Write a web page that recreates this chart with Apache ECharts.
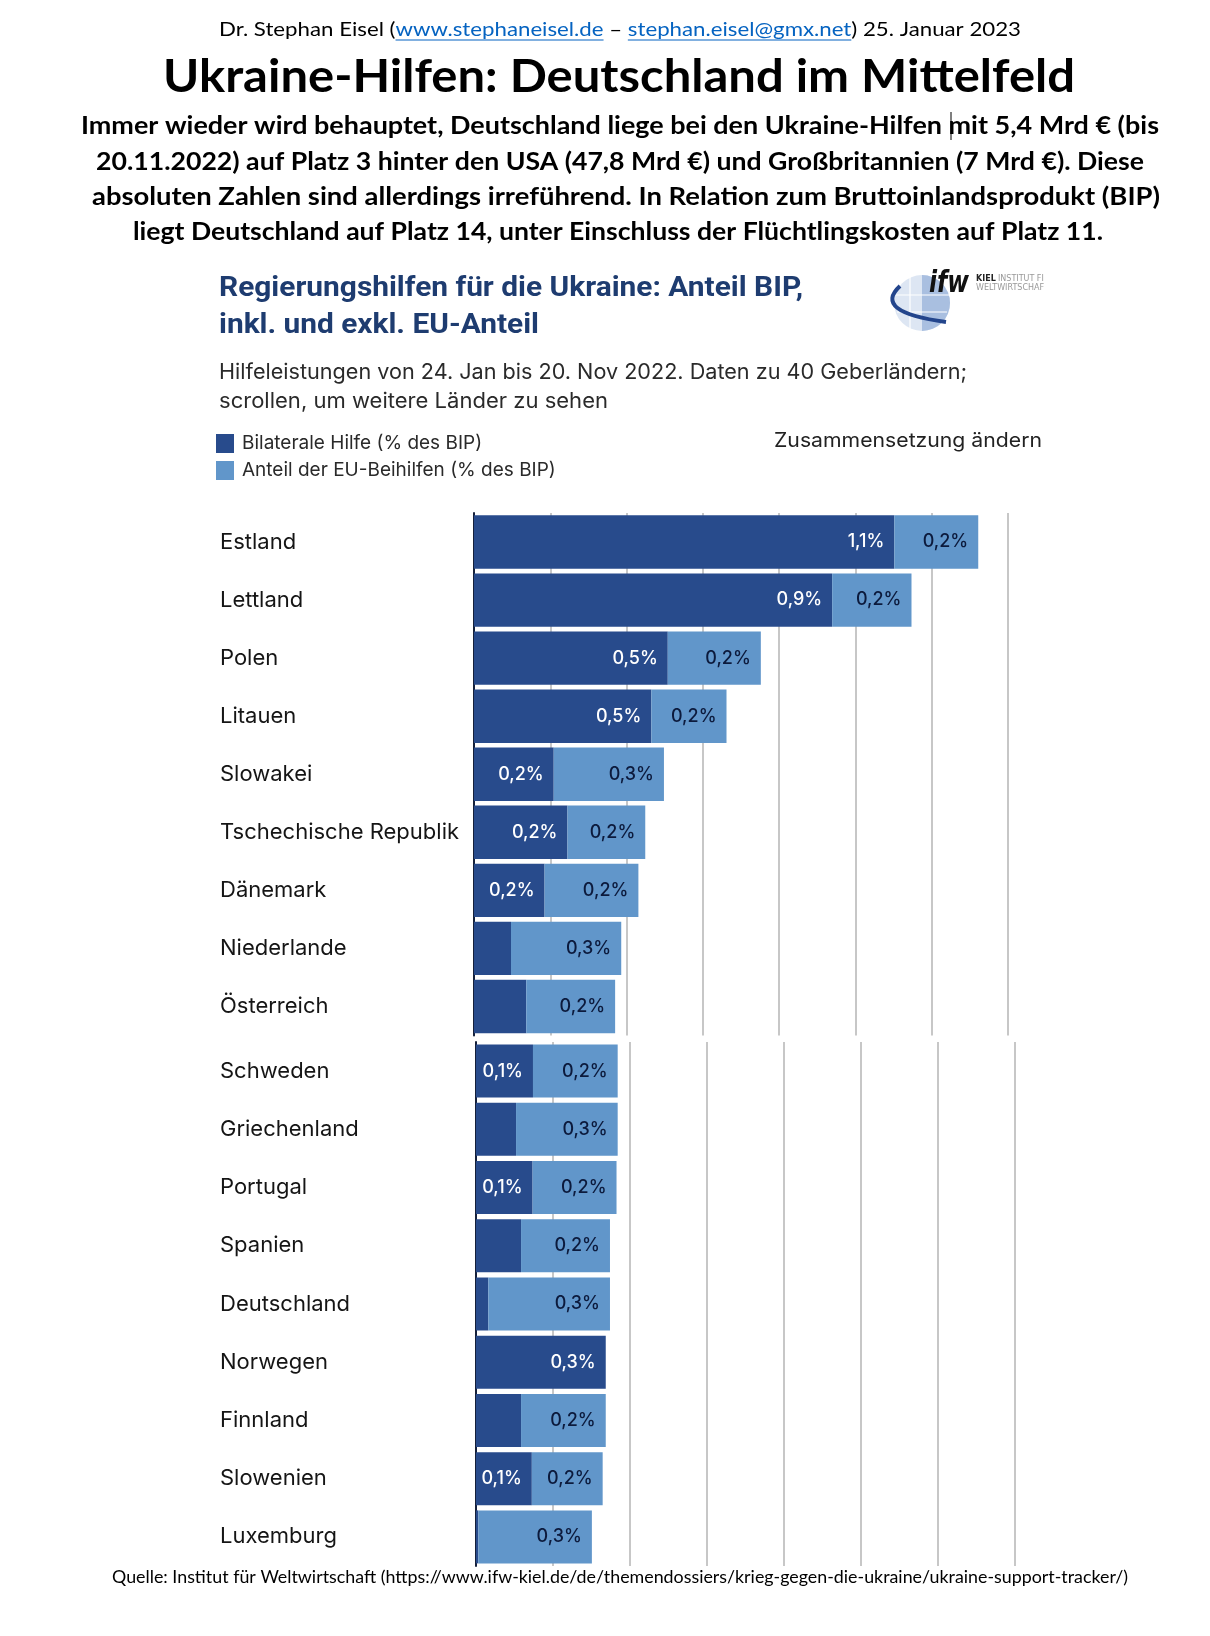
<!DOCTYPE html>
<html><head><meta charset="utf-8">
<script src="https://cdn.jsdelivr.net/npm/echarts@6/dist/echarts.min.js"></script>
<style>html,body{margin:0;padding:0;background:#fff}#chart{width:1210px;height:1636px}</style>
</head><body><div id="chart"></div>
<script>
// ---- data ----
const countries = ['Estland','Lettland','Polen','Litauen','Slowakei','Tschechische Republik','Dänemark','Niederlande','Österreich',
                   'Schweden','Griechenland','Portugal','Spanien','Deutschland','Norwegen','Finnland','Slowenien','Luxemburg'];
const bilateral = [1.102,0.939,0.508,0.465,0.209,0.245,0.185,0.097,0.137,
                   0.148,0.104,0.147,0.117,0.032,0.337,0.117,0.145,0.006];
const euShare   = [0.220,0.208,0.244,0.197,0.289,0.204,0.246,0.289,0.233,
                   0.220,0.264,0.218,0.231,0.316,0,0.220,0.184,0.295];
const seriesNames = ['Bilaterale Hilfe (% des BIP)', 'Anteil der EU-Beihilfen (% des BIP)'];
const xTicks = {min:0, max:1.4, step:0.2};
const splitAt = 9; // the reference is two stitched screenshots

// ---- styling ----
const DARK = '#284b8c', LIGHT = '#6196ca', LABEL_DARK = '#0c1a3c';
const ctx = document.createElement('canvas').getContext('2d');
function tw(t, font){ ctx.font = font; return ctx.measureText(t).width; }
function fit(text, font, x, y, target, fill, align){
  const w = tw(text, font);
  return {type:'text', x:x, y:y, scaleX: target / w, silent:true,
          style:{text:text, font:font, fill:fill || '#000', align:align || 'left', verticalAlign:'middle'}};
}
function segLine(segs, font, cx, y, target, ul){
  const ws = segs.map(s => tw(s.t, font));
  const tot = ws.reduce((a,b)=>a+b,0), k = target / tot;
  let x = cx - target/2; const out = [];
  segs.forEach((s,i)=>{
    out.push({type:'text', x:x, y:y, scaleX:k, silent:true,
      style:{text:s.t, font:font, fill:s.c || '#000', align:'left', verticalAlign:'middle'}});
    if (s.u) out.push({type:'line', silent:true, shape:{x1:x, y1:y+ul, x2:x+ws[i]*k, y2:y+ul}, style:{stroke:s.c, lineWidth:1.2}});
    x += ws[i]*k;
  });
  return out;
}
const fmt = v => v.toFixed(1).replace('.', ',') + '%';

const LINK = '#0563c1';
const graphics = [].concat(
  segLine([{t:'Dr. Stephan Eisel ('},{t:'www.stephaneisel.de',c:LINK,u:true},{t:' – '},
           {t:'stephan.eisel@gmx.net',c:LINK,u:true},{t:') 25. Januar 2023'}], '19px Lato', 620, 30, 802, 10),
  [
    fit('Ukraine-Hilfen: Deutschland im Mittelfeld', 'bold 46px Lato', 619, 77, 912, '#000', 'center'),
    fit('Immer wieder wird behauptet, Deutschland liege bei den Ukraine-Hilfen mit 5,4 Mrd € (bis', 'bold 25px Lato', 620, 126, 1078, '#000', 'center'),
    fit('20.11.2022) auf Platz 3 hinter den USA (47,8 Mrd €) und Großbritannien (7 Mrd €). Diese', 'bold 25px Lato', 620, 162, 1048, '#000', 'center'),
    fit('absoluten Zahlen sind allerdings irreführend. In Relation zum Bruttoinlandsprodukt (BIP)', 'bold 25px Lato', 626, 197, 1068, '#000', 'center'),
    fit('liegt Deutschland auf Platz 14, unter Einschluss der Flüchtlingskosten auf Platz 11.', 'bold 25px Lato', 618, 232, 970, '#000', 'center'),
    {type:'line', silent:true, shape:{x1:951, y1:112, x2:951, y2:140}, style:{stroke:'#000', lineWidth:1}},
    fit('Regierungshilfen für die Ukraine: Anteil BIP,', 'bold 28px Roboto', 219, 289, 584, '#1e3c70'),
    fit('inkl. und exkl. EU-Anteil', 'bold 28px Roboto', 219, 326, 320, '#1e3c70'),
    fit('Hilfeleistungen von 24. Jan bis 20. Nov 2022. Daten zu 40 Geberländern;', '21px Inter', 219, 373, 748, '#2a2a2a'),
    fit('scrollen, um weitere Länder zu sehen', '21px Inter', 219, 402, 389, '#2a2a2a'),
    fit('Zusammensetzung ändern', '20px Inter', 774, 441, 268, '#222'),
    fit('Quelle: Institut für Weltwirtschaft (https://www.ifw-kiel.de/de/themendossiers/krieg-gegen-die-ukraine/ukraine-support-tracker/)', '17px Lato', 620, 1578, 1016, '#000', 'center'),
    // IfW logo
    {type:'circle', silent:true, shape:{cx:922, cy:303, r:28}, style:{fill:'#dde6f3'}},
    {type:'sector', silent:true, shape:{cx:922, cy:303, r:28, r0:0, startAngle:-Math.PI/2, endAngle:Math.PI/2}, style:{fill:'#a9bfe0'}},
    {type:'line', silent:true, shape:{x1:895, y1:295, x2:949, y2:295}, style:{stroke:'#fff', lineWidth:1.2}},
    {type:'line', silent:true, shape:{x1:897, y1:312, x2:947, y2:312}, style:{stroke:'#fff', lineWidth:1.2}},
    {type:'line', silent:true, shape:{x1:910, y1:277, x2:910, y2:329}, style:{stroke:'#fff', lineWidth:1.2}},
    {type:'bezierCurve', silent:true, shape:{x1:900, y1:286, cpx1:872, cpy1:312, x2:946, y2:322}, style:{stroke:'#23458c', lineWidth:4, fill:null}},
    fit('ifw', 'italic bold 30px "DejaVu Sans"', 929, 284, 40, '#111'),
    {type:'text', silent:true, x:976, y:279, style:{text:'KIEL', font:'bold 8px "DejaVu Sans"', fill:'#222', align:'left', verticalAlign:'middle'}},
    {type:'text', silent:true, x:998, y:279, style:{text:'INSTITUT FI', font:'8px "DejaVu Sans"', fill:'#999', align:'left', verticalAlign:'middle'}},
    {type:'text', silent:true, x:976, y:288, style:{text:'WELTWIRTSCHAF', font:'8px "DejaVu Sans"', fill:'#999', align:'left', verticalAlign:'middle'}}
  ]
);

// ---- chart ----
const parts = [
  {cats: countries.slice(0, splitAt), bil: bilateral.slice(0, splitAt), eu: euShare.slice(0, splitAt)},
  {cats: countries.slice(splitAt),    bil: bilateral.slice(splitAt),    eu: euShare.slice(splitAt)}
];
const grids = [
  {left:474, top:513, width:534, height:522.5},
  {left:476, top:1042, width:539, height:524}
];
const gaps = ['8%', '9%'];

const labelBase = {show:true, position:'insideRight', distance:10, fontFamily:'Inter', fontSize:18, fontWeight:500};
const series = [];
parts.forEach((p, i) => {
  series.push({
    name: seriesNames[0], type:'bar', stack:'s'+i, xAxisIndex:i, yAxisIndex:i, data:p.bil,
    barCategoryGap: gaps[i], itemStyle:{color:DARK},
    label: Object.assign({}, labelBase, {color:'#fff', formatter: q => q.value >= 0.14 ? fmt(q.value) : ''})
  });
  series.push({
    name: seriesNames[1], type:'bar', stack:'s'+i, xAxisIndex:i, yAxisIndex:i, data:p.eu,
    barCategoryGap: gaps[i], itemStyle:{color:LIGHT},
    label: Object.assign({}, labelBase, {color:LABEL_DARK, formatter: q => q.value > 0 ? fmt(q.value) : ''})
  });
});

const option = {
  backgroundColor:'#fff',
  animation:false,
  graphic: graphics,
  legend: {
    orient:'vertical', left:211, top:429, itemWidth:18, itemHeight:19, itemGap:8, icon:'rect',
    data: seriesNames, selectedMode:false,
    textStyle:{fontFamily:'Inter', fontSize:19, color:'#2a2a2a', padding:[0,0,0,3]}
  },
  grid: grids,
  xAxis: grids.map((g,i) => ({
    gridIndex:i, type:'value', min:xTicks.min, max:xTicks.max, interval:xTicks.step,
    axisLabel:{show:false}, axisLine:{show:false}, axisTick:{show:false},
    splitLine:{show:true, lineStyle:{color:'#b4b4b4', width:1.5}}
  })),
  yAxis: parts.map((p,i) => ({
    gridIndex:i, type:'category', data:p.cats, inverse:true,
    axisLine:{show:true, lineStyle:{color:'#15203a', width:2}}, axisTick:{show:false},
    axisLabel:{align:'left', margin: grids[i].left - 220, fontFamily:'Inter', fontSize:22, color:'#151515', padding:[6,0,0,0]}
  })),
  series: series
};
const chart = echarts.init(document.getElementById('chart'), null, {renderer:'canvas'});
chart.setOption(option);
</script>
</body></html>
